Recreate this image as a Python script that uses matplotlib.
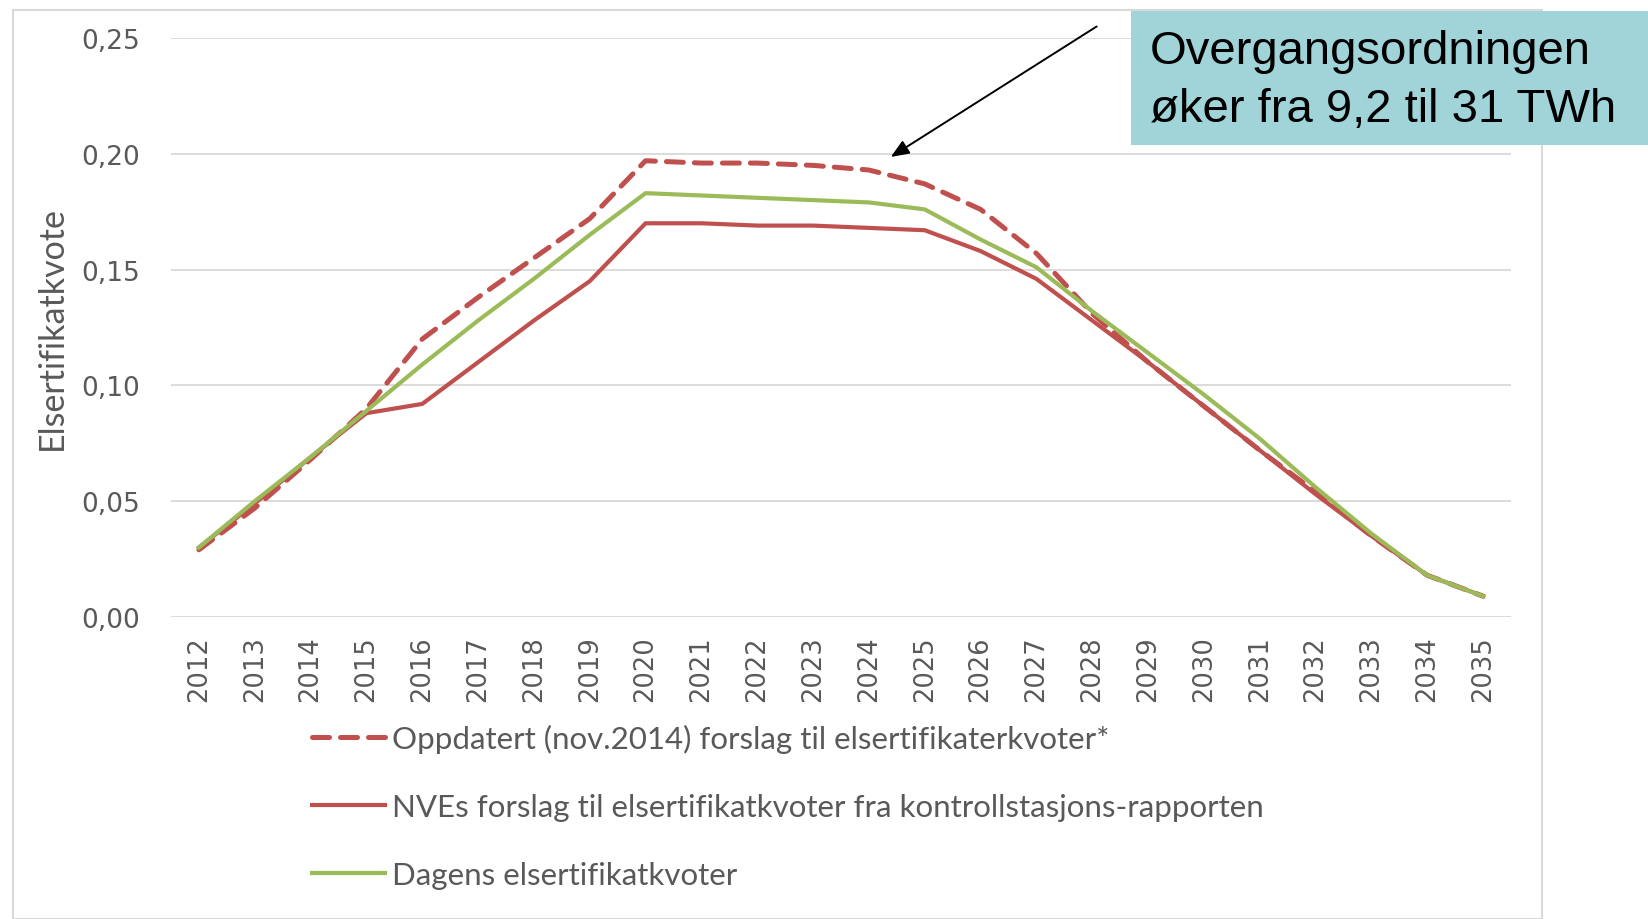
import matplotlib.pyplot as plt
import matplotlib.patches as patches
from matplotlib.ticker import FuncFormatter

years = list(range(2012, 2036))

oppdatert = [0.029, 0.047, 0.068, 0.090, 0.120, 0.138, 0.155, 0.172, 0.197, 0.196,
             0.196, 0.195, 0.193, 0.187, 0.176, 0.157, 0.131, 0.110, 0.091, 0.072,
             0.054, 0.035, 0.018, 0.009]
nve = [0.030, 0.049, 0.069, 0.088, 0.092, 0.110, 0.128, 0.145, 0.170, 0.170,
       0.169, 0.169, 0.168, 0.167, 0.158, 0.146, 0.128, 0.110, 0.091, 0.072,
       0.053, 0.035, 0.018, 0.009]
dagens = [0.030, 0.050, 0.069, 0.089, 0.109, 0.128, 0.146, 0.165, 0.183, 0.182,
          0.181, 0.180, 0.179, 0.176, 0.163, 0.151, 0.132, 0.114, 0.096, 0.077,
          0.056, 0.036, 0.018, 0.009]

labels = ["Oppdatert (nov.2014) forslag til elsertifikaterkvoter*",
          "NVEs forslag til elsertifikatkvoter fra kontrollstasjons-rapporten",
          "Dagens elsertifikatkvoter"]

red = "#C0504D"
green = "#9BBB59"
grey = "#595959"

fig = plt.figure(figsize=(16.49, 9.2), dpi=100)
ax = fig.add_axes([0.1037, 0.3283, 0.8126, 0.6293])

ax.plot(years, oppdatert, color=red, lw=3.6, dashes=(3.4, 2.2),
        dash_capstyle="round", label=labels[0], zorder=3)
ax.plot(years, nve, color=red, lw=3.0, label=labels[1], zorder=3)
ax.plot(years, dagens, color=green, lw=3.0, label=labels[2], zorder=3)

ax.set_xlim(2011.5, 2035.5)
ax.set_ylim(0, 0.25)
ax.set_yticks([0, 0.05, 0.10, 0.15, 0.20, 0.25])
ax.yaxis.set_major_formatter(FuncFormatter(lambda v, p: f"{v:.2f}".replace(".", ",")))
ax.set_xticks(years)
ax.set_xticklabels([str(y) for y in years], rotation=90)
ax.tick_params(axis="x", length=0, labelsize=18.5, labelcolor=grey, pad=13)
ax.tick_params(axis="y", length=0, labelsize=19, labelcolor=grey, pad=22)
ax.grid(axis="y", color="#D9D9D9", lw=1.3)
ax.set_axisbelow(True)
for s in ax.spines.values():
    s.set_visible(False)

ax.set_ylabel("Elsertifikatkvote", family="Lato", fontsize=24.5, color=grey, labelpad=10)

leg = ax.legend(loc="upper left", bbox_to_anchor=(0.084, -0.136), frameon=False,
                prop={"family": "Lato", "size": 22.5}, labelcolor=grey,
                handlelength=2.36, handletextpad=0.22, labelspacing=1.28)

# outer chart border
fig.patches.append(patches.Rectangle((12.6 / 1649, 0), (1542 - 12.6) / 1649, 1 - 10.5 / 920,
                                     transform=fig.transFigure, fill=False,
                                     edgecolor="#D9D9D9", lw=1.5, zorder=0))

# callout box
fig.patches.append(patches.Rectangle((1131 / 1649, 1 - 146 / 920), 1 - 1131 / 1649, 134 / 920,
                                     transform=fig.transFigure, facecolor="#A0D4D9",
                                     edgecolor="none", zorder=5))
fig.text(1150 / 1649, 1 - 81 / 920, "Overgangsordningen\nøker fra 9,2 til 31 TWh",
         family="Liberation Sans", fontsize=34, color="black", va="center", ha="left",
         linespacing=1.42, zorder=6)

ax.annotate("", xy=(2024.35, 0.198), xycoords="data",
            xytext=(1099 / 1649, 1 - 26 / 920), textcoords="figure fraction",
            arrowprops=dict(arrowstyle="-|>,head_length=1.1,head_width=0.45",
                            color="black", lw=1.4), annotation_clip=False)

fig.savefig("out.png", dpi=100)
